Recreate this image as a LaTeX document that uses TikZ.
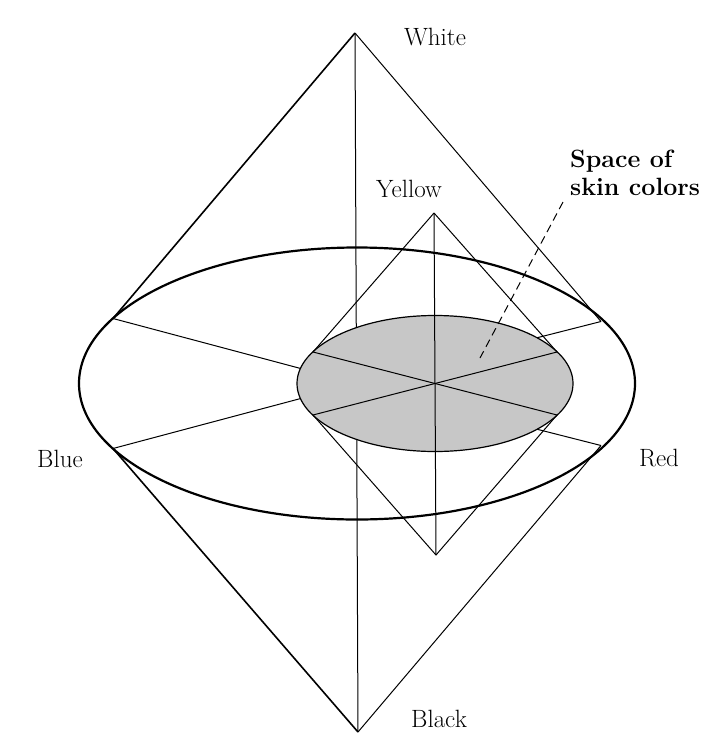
\documentclass[tikz,border=0pt]{standalone}
\usepackage{fontspec}
\usetikzlibrary{calc}

\begin{document}
\begin{tikzpicture}[
    x=1pt, y=-1pt,
    font=\fontsize{25}{28}\selectfont,
    >=stealth,
    edge/.style={line width=1pt, line join=round},
    hull/.style={line width=1.6pt, line join=round},
    rim/.style={line width=2.2pt},
    lbl/.style={anchor=base, inner sep=0pt},
    skin/.style={fill=black!22, draw, line width=1.2pt}
]
\useasboundingbox (0,0) rectangle (718,734);

% big double cone
\coordinate (ctr) at (357,383.5);
\coordinate (white) at (355,33);
\coordinate (black) at (358,732);
\coordinate (bu) at ($(ctr)+(-244,-65)$);
\coordinate (bd) at ($(ctr)+(-244,65)$);
\coordinate (ru) at ($(ctr)+(244,-62)$);
\coordinate (rd) at ($(ctr)+(244,62)$);

\draw[rim] (ctr) ellipse [x radius=278pt, y radius=136pt];
\draw[hull] (white) -- (bu);
\draw[edge] (white) -- (ru);
\draw[hull] (black) -- (bd);
\draw[edge] (black) -- (rd);
\draw[edge] (white) -- (black);
\draw[edge] (bu) -- (ctr) -- (bd);
\draw[edge] (ru) -- (ctr) -- (rd);

% skin colour region
\coordinate (sc) at (435,383.5);
\draw[skin] (sc) ellipse [x radius=138pt, y radius=68pt];

\coordinate (yellow) at (434,213);
\coordinate (ybot) at (436,555);
\coordinate (sl1) at ($(sc)+(-122,-31.5)$);
\coordinate (sr1) at ($(sc)+(122,-31.5)$);
\coordinate (sl2) at ($(sc)+(-122,31.5)$);
\coordinate (sr2) at ($(sc)+(122,31.5)$);

\draw[edge] (sl1) -- (yellow) -- (sr1);
\draw[edge] (sl2) -- (ybot) -- (sr2);
\draw[edge] (yellow) -- (ybot);
\draw[edge] (sl1) -- (sc) -- (sr1);
\draw[edge] (sl2) -- (sc) -- (sr2);

% labels
\node[lbl] (whitelbl) at (435,45) {White};
\node[lbl] (yellowlbl) at (409,197) {Yellow};
\node[lbl] (bluelbl) at (60,467) {Blue};
\node[lbl] (redlbl) at (659,466) {Red};
\node[lbl] (blacklbl) at (439,727) {Black};
\node[lbl, anchor=base west, font=\fontsize{25}{28}\selectfont\bfseries] (skin1) at (570,167) {Space of};
\node[lbl, anchor=base west, font=\fontsize{25}{28}\selectfont\bfseries] (skin2) at (570,195) {skin colors};

\coordinate (skintip) at (480,358);
\draw[edge, dash pattern=on 8pt off 5pt] ([shift={(-7,7)}]skin2.base west) -- (skintip);
\end{tikzpicture}
\end{document}
